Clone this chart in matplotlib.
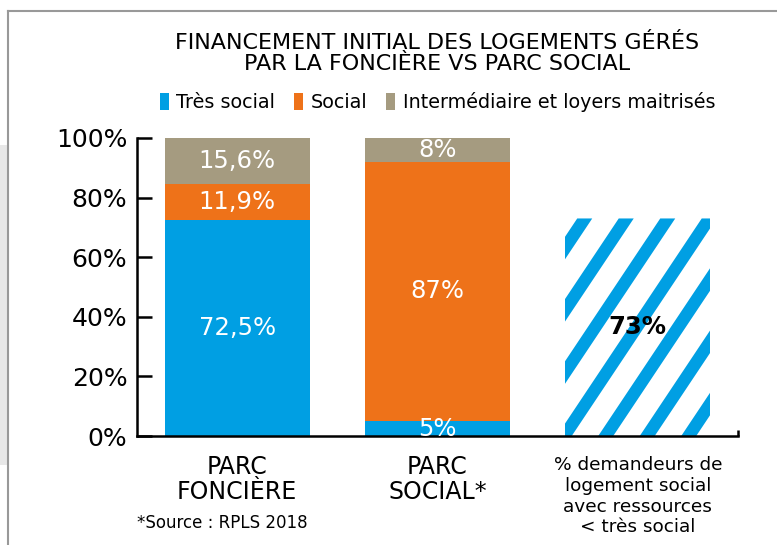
import matplotlib
matplotlib.use("Agg")
import numpy as np
import matplotlib.pyplot as plt
from matplotlib.patches import Rectangle, Polygon
from matplotlib.lines import Line2D

# data
categories = ["PARC\nFONCIÈRE", "PARC\nSOCIAL*"]
tres_social = [72.5, 5]
social = [11.9, 87]
intermediaire = [15.6, 8]
labels_tres = ["72,5%", "5%"]
labels_social = ["11,9%", "87%"]
labels_inter = ["15,6%", "8%"]
demandeurs_value = 73
demandeurs_label = "73%"
demandeurs_cat = "% demandeurs de\nlogement social\navec ressources\n< très social"
series_names = ["Très social", "Social", "Intermédiaire et loyers maitrisés"]

BLUE = "#009FE3"
ORANGE = "#EE7219"
TAN = "#A59B80"

fig = plt.figure(figsize=(7.77, 5.45), dpi=100)
ax = fig.add_axes([0.1763, 0.2, 0.7735, 0.5468])

x = np.arange(len(categories))
w = 0.725
b1 = ax.bar(x, tres_social, w, color=BLUE, label=series_names[0])
b2 = ax.bar(x, social, w, bottom=tres_social, color=ORANGE, label=series_names[1])
bot3 = np.array(tres_social) + np.array(social)
b3 = ax.bar(x, intermediaire, w, bottom=bot3, color=TAN, label=series_names[2])

for bars, labs in ((b1, labels_tres), (b2, labels_social), (b3, labels_inter)):
    for r, t in zip(bars, labs):
        ax.text(r.get_x() + r.get_width() / 2, r.get_y() + r.get_height() / 2, t,
                ha="center", va="center", color="white", fontsize=17.5)

# hatched bar
x3 = len(categories)
hb = ax.bar([x3], [demandeurs_value], w, color="white", edgecolor="none")[0]
ax.set_xlim(-0.5, 2.5)
ax.set_ylim(0, 100)

# diagonal stripes, built in pixel space and clipped to the bar
fig.canvas.draw()
inv = ax.transData.inverted()
(px0, py0) = ax.transData.transform((hb.get_x(), 0))
(px1, py1) = ax.transData.transform((hb.get_x() + hb.get_width(), demandeurs_value))
slope = 1.5
period = 41.5
sw = 15.0
run = (py1 - py0) / slope
xs = px0 + 33 - period * np.ceil((run + 40) / period)
while xs < px1:
    pts = [(xs, py0), (xs + sw, py0), (xs + sw + run, py1), (xs + run, py1)]
    poly = Polygon(inv.transform(pts), closed=True, facecolor=BLUE, edgecolor="none")
    ax.add_patch(poly)
    poly.set_clip_path(hb)
    xs += period
ax.text(x3, demandeurs_value / 2, demandeurs_label, ha="center", va="center",
        color="black", fontsize=17.5, fontweight="bold")

# axes styling
for s in ("top", "right"):
    ax.spines[s].set_visible(False)
ax.spines["left"].set_linewidth(1.8)
ax.spines["bottom"].set_linewidth(1.8)
ax.set_yticks([0, 20, 40, 60, 80, 100])
ax.set_yticklabels(["0%", "20%", "40%", "60%", "80%", "100%"], fontsize=18)
ax.tick_params(axis="y", direction="in", length=11, width=1.8, pad=7)
ax.set_xticks([2.5], minor=True)
ax.tick_params(axis="x", which="minor", direction="in", length=4, width=1.8)
ax.set_xticks([])

for xi, cat in enumerate(categories):
    ax.text(xi, -6.5, cat, ha="center", va="top", fontsize=17, linespacing=1.05)
ax.text(-0.075, -26.3, "*Source : RPLS 2018", ha="center", va="top", fontsize=12)
ax.text(x3, -6.7, demandeurs_cat, ha="center", va="top", fontsize=13.3, linespacing=1.2)

fig.text(0.563, 0.94, "FINANCEMENT INITIAL DES LOGEMENTS GÉRÉS\nPAR LA FONCIÈRE VS PARC SOCIAL",
         ha="center", va="top", fontsize=16, linespacing=1.1)

ax.legend(handles=[b1, b2, b3], labels=series_names, ncol=3, loc="center",
          bbox_to_anchor=(0.5, 1.12), frameon=False, prop={"size": 13.8},
          handlelength=0.45, handleheight=1.0, handletextpad=0.4, columnspacing=1.0)

# page frame
fig.add_artist(Rectangle((0, 0.147), 0.0103, 0.587, transform=fig.transFigure,
                         facecolor="#e8e8e8", edgecolor="none"))
fig.add_artist(Line2D([0.0103, 1], [0.98, 0.98], transform=fig.transFigure, color="#999999", lw=1.5))
fig.add_artist(Line2D([0.0103, 0.0103], [0, 0.98], transform=fig.transFigure, color="#999999", lw=1.5))

fig.savefig("out.png", dpi=100)
